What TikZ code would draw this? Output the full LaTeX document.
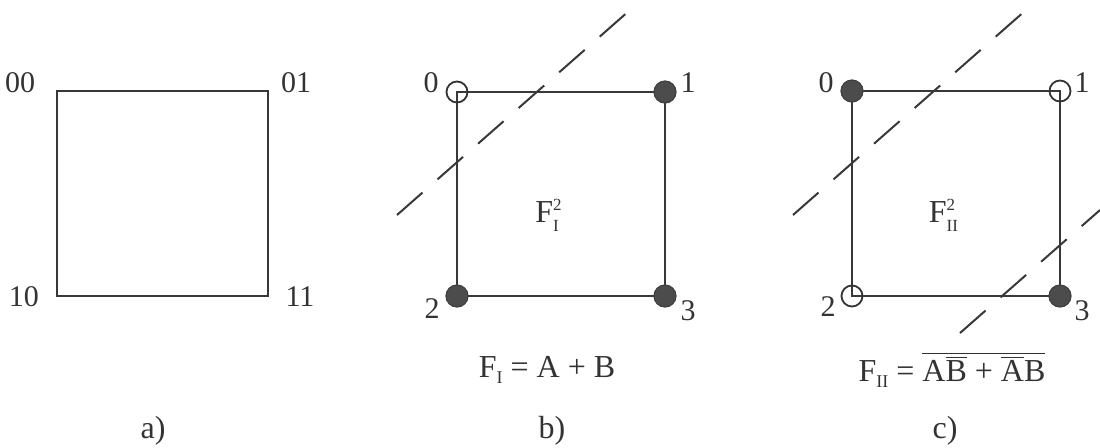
\documentclass[tikz,border=0pt]{standalone}
\usepackage{fontspec}
\setmainfont{Liberation Serif}
\newcommand{\supsubx}[2]{$^{\mbox{\fontsize{8.5}{9}\selectfont #1}}_{\mbox{\fontsize{8.5}{9}\selectfont #2}}$}
\begin{document}
\begin{tikzpicture}[x=0.5pt,y=-0.5pt,
  edge/.style={draw=black!78,line width=1pt},
  cutline/.style={draw=black!78,line width=1pt,dash pattern=on 17pt off 10pt},
  fulldot/.style={circle,fill=black!70,draw=black!75,line width=0.6pt,minimum size=11pt,inner sep=0pt},
  opendot/.style={circle,draw=black!80,line width=0.9pt,minimum size=10.5pt,inner sep=0pt},
  lbl/.style={font=\fontsize{15}{17}\selectfont,text=black!80,inner sep=0pt},
  captxt/.style={font=\fontsize{16}{19}\selectfont,text=black!80,inner sep=0pt},
  formula/.style={font=\fontsize{16}{19}\selectfont,text=black!80,inner sep=0pt}]
\useasboundingbox (0,0) rectangle (1100,447);

% ---- a) ----
\coordinate (a0) at (57,91);
\coordinate (a1) at (268,91);
\coordinate (a2) at (57,296);
\coordinate (a3) at (268,296);
\draw[edge] (a0) -- (a1) -- (a3) -- (a2) -- cycle;
\node[lbl] (la0) at (20,83) {00};
\node[lbl] (la1) at (296,83) {01};
\node[lbl] (la2) at (24,297) {10};
\node[lbl] (la3) at (300,297) {11};
\node[captxt] (capa) at (153,431) {a)};

% ---- b) ----
\coordinate (b0) at (457,92);
\coordinate (b1) at (665,92);
\coordinate (b2) at (457,296);
\coordinate (b3) at (665,296);
\draw[edge] (b0) -- (b1) -- (b3) -- (b2) -- cycle;
\coordinate (bl1s) at (397,215);
\coordinate (bl1e) at (630,10);
\draw[cutline] (bl1s) -- (bl1e);
\node[opendot] (db0) at (b0) {};
\node[fulldot] (db1) at (b1) {};
\node[fulldot] (db2) at (b2) {};
\node[fulldot] (db3) at (b3) {};
\node[lbl] (lb0) at (431,83) {0};
\node[lbl] (lb1) at (688,83) {1};
\node[lbl] (lb2) at (432,309) {2};
\node[lbl] (lb3) at (688,311) {3};
\node[captxt] (fb) at (549,215) {F\supsubx{2}{I}};
\node[formula] (formb) at (547,370) {F\raisebox{-0.45ex}{\fontsize{9}{10}\selectfont I} = A + B};
\node[captxt] (capb) at (552,431) {b)};

% ---- c) ----
\coordinate (c0) at (852,91);
\coordinate (c1) at (1060,91);
\coordinate (c2) at (852,296);
\coordinate (c3) at (1060,296);
\draw[edge] (c0) -- (c1) -- (c3) -- (c2) -- cycle;
\coordinate (cl1s) at (793,215);
\coordinate (cl1e) at (1026,10);
\draw[cutline] (cl1s) -- (cl1e);
\coordinate (cl2s) at (960,333);
\coordinate (cl2e) at (1100,210);
\draw[cutline] (cl2s) -- (cl2e);
\node[fulldot] (dc0) at (c0) {};
\node[opendot] (dc1) at (c1) {};
\node[opendot] (dc2) at (c2) {};
\node[fulldot] (dc3) at (c3) {};
\node[lbl] (lc0) at (826,83) {0};
\node[lbl] (lc1) at (1082,83) {1};
\node[lbl] (lc2) at (828,307) {2};
\node[lbl] (lc3) at (1082,311) {3};
\node[captxt] (fc) at (944,215) {F\supsubx{2}{II}};
\node[formula] (formc) at (952,370) {F\raisebox{-0.45ex}{\fontsize{9}{10}\selectfont II} = $\overline{\mbox{A$\overline{\mbox{B}}$ + $\overline{\mbox{A}}$B}}$};
\node[captxt] (capc) at (945,431) {c)};
\end{tikzpicture}
\end{document}
